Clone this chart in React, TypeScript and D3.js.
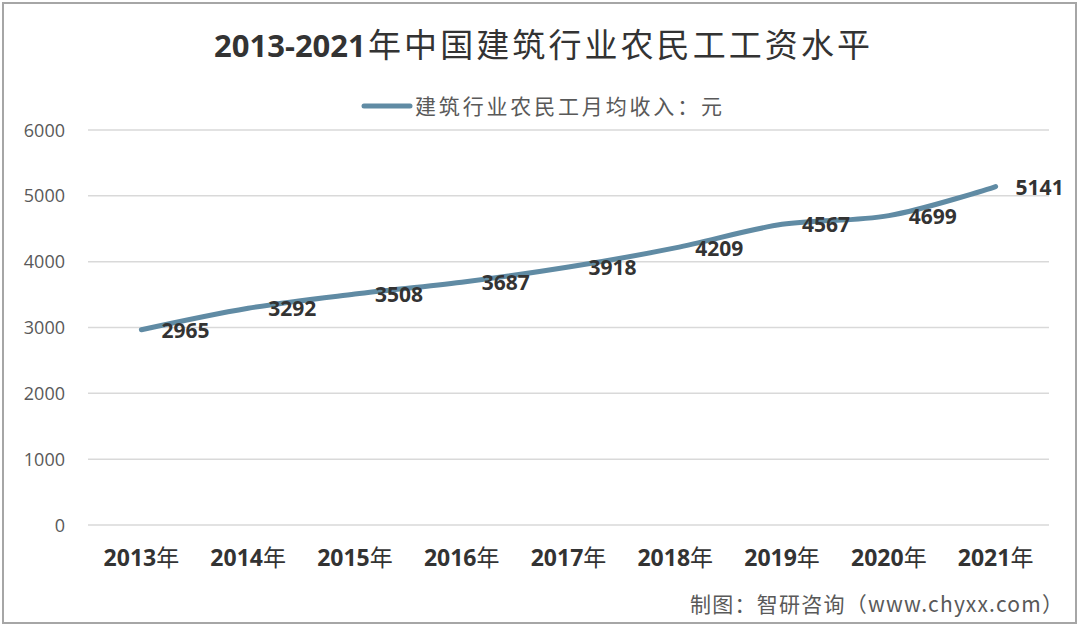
import React from "react";
import * as d3 from "d3";

const categories = ["2013年", "2014年", "2015年", "2016年", "2017年", "2018年", "2019年", "2020年", "2021年"];
const incomeValues = [2965, 3292, 3508, 3687, 3918, 4209, 4567, 4699, 5141];
const yTicks = [0, 1000, 2000, 3000, 4000, 5000, 6000];
const titleNum = "2013-2021";
const titleText = "年中国建筑行业农民工工资水平";
const legendLabel = "建筑行业农民工月均收入：元";
const sourceText = "制图：智研咨询（www.chyxx.com）";

const W = 1080;
const H = 627;
const plot = { left: 88, right: 1049, top: 130, bottom: 525 };
const lineColor = "#608ba4";
const latin = "'Open Sans', 'Noto Sans', sans-serif";
const cjk = "'Noto Sans CJK SC', sans-serif";

export default function App() {
  const x = d3.scaleBand<string>().domain(categories).range([plot.left, plot.right]);
  const y = d3.scaleLinear().domain([0, 6000]).range([plot.bottom, plot.top]);
  const cx = (c: string) => (x(c) ?? 0) + x.bandwidth() / 2;
  const pts: [number, number][] = categories.map((c, i) => [cx(c), y(incomeValues[i])]);
  const line = d3.line().curve(d3.curveCatmullRom.alpha(0.5))(pts) ?? "";

  return (
    <svg width={W} height={H} style={{ position: "absolute", left: 0, top: 0, background: "#fff" }}>
      <rect x={3} y={3} width={1073} height={620} fill="#fff" stroke="#a6a6a6" strokeWidth={2} />
      <text x={214} y={57} fontFamily={latin} fontWeight="bold" fontSize={31} fill="#333">{titleNum}</text>
      <text x={368} y={57} fontFamily={cjk} fontSize={33} fill="#333" textLength={502} lengthAdjust="spacing">{titleText}</text>
      <line x1={364} x2={410} y1={106} y2={106} stroke={lineColor} strokeWidth={5} strokeLinecap="round" />
      <text x={415} y={114} fontFamily={cjk} fontSize={21} fill="#595959" textLength={307} lengthAdjust="spacing">{legendLabel}</text>
      {yTicks.map((t) => (
        <g key={t}>
          <line x1={plot.left} x2={plot.right} y1={y(t)} y2={y(t)} stroke="#d9d9d9" strokeWidth={1.5} />
          <text x={65} y={y(t) + 6.5} textAnchor="end" fontFamily={latin} fontSize={18} fill="#595959">{t}</text>
        </g>
      ))}
      {categories.map((c) => (
        <text key={c} x={cx(c)} y={566} textAnchor="middle" fontSize={23} fill="#333">
          <tspan fontFamily={latin} fontWeight="bold">{c.slice(0, 4)}</tspan>
          <tspan fontFamily={cjk}>{c.slice(4)}</tspan>
        </text>
      ))}
      <path d={line} fill="none" stroke={lineColor} strokeWidth={5} strokeLinecap="round" strokeLinejoin="round" />
      {pts.map(([px, py], i) => (
        <text key={i} x={px + 20} y={py + 8} fontFamily={latin} fontWeight="bold" fontSize={21} fill="#333">
          {incomeValues[i]}
        </text>
      ))}
      <text x={690} y={612} fontFamily={cjk} fontSize={21} fill="#595959" textLength={373} lengthAdjust="spacing">{sourceText}</text>
    </svg>
  );
}
